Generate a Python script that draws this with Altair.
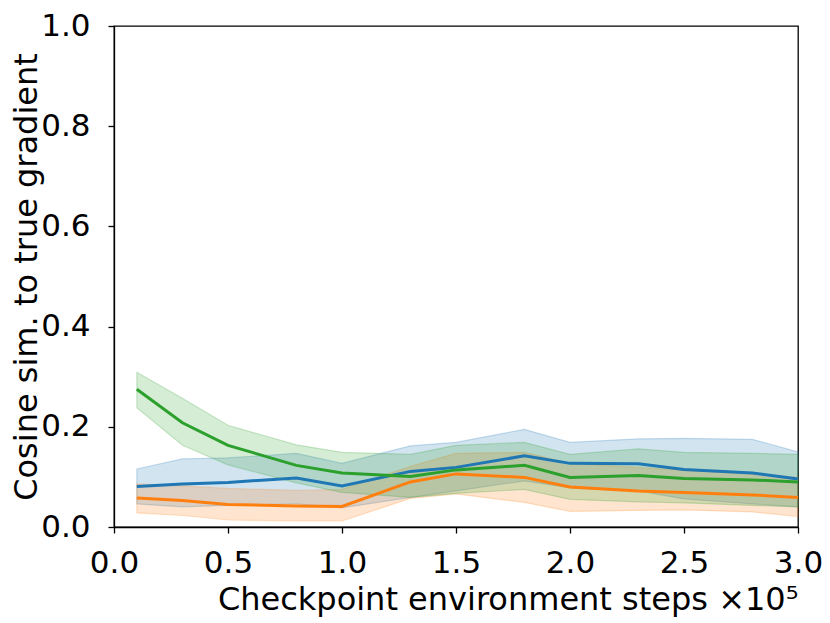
import altair as alt
import pandas as pd

steps = [0.1, 0.3, 0.5, 0.8, 1.0, 1.3, 1.5, 1.8, 2.0, 2.3, 2.5, 2.8, 3.0]

blue_mean = [0.081, 0.086, 0.089, 0.098, 0.082, 0.111, 0.119, 0.142, 0.127, 0.126, 0.115, 0.108, 0.096]
blue_hi = [0.116, 0.136, 0.138, 0.147, 0.127, 0.162, 0.169, 0.195, 0.169, 0.176, 0.177, 0.175, 0.150]
blue_lo = [0.046, 0.040, 0.043, 0.046, 0.038, 0.059, 0.072, 0.092, 0.078, 0.072, 0.056, 0.046, 0.040]

orange_mean = [0.058, 0.053, 0.045, 0.042, 0.041, 0.090, 0.106, 0.099, 0.080, 0.072, 0.069, 0.064, 0.059]
orange_hi = [0.086, 0.082, 0.077, 0.073, 0.075, 0.121, 0.147, 0.149, 0.127, 0.119, 0.113, 0.106, 0.099]
orange_lo = [0.028, 0.023, 0.014, 0.012, 0.012, 0.057, 0.066, 0.049, 0.031, 0.033, 0.034, 0.030, 0.021]

green_mean = [0.275, 0.208, 0.163, 0.123, 0.108, 0.101, 0.114, 0.123, 0.099, 0.103, 0.097, 0.094, 0.090]
green_hi = [0.309, 0.257, 0.203, 0.164, 0.149, 0.145, 0.163, 0.169, 0.145, 0.156, 0.149, 0.147, 0.145]
green_lo = [0.238, 0.163, 0.124, 0.088, 0.069, 0.059, 0.067, 0.075, 0.055, 0.050, 0.048, 0.043, 0.040]

series_names = ["blue", "orange", "green"]
series_colors = ["#1f77b4", "#ff7f0e", "#2ca02c"]

x_ticks = [0, 0.5, 1.0, 1.5, 2.0, 2.5, 3.0]
y_ticks = [0, 0.2, 0.4, 0.6, 0.8, 1.0]

rows = []
for name, m, hi, lo in [
    ("blue", blue_mean, blue_hi, blue_lo),
    ("orange", orange_mean, orange_hi, orange_lo),
    ("green", green_mean, green_hi, green_lo),
]:
    for i, s in enumerate(steps):
        rows.append({"series": name, "step": s, "mean": m[i], "hi": hi[i], "lo": lo[i]})
df = pd.DataFrame(rows)

FONT = "DejaVu Sans"
cscale = alt.Scale(domain=series_names, range=series_colors)
color = alt.Color("series:N", scale=cscale, legend=None)

x = alt.X(
    "step:Q",
    scale=alt.Scale(domain=[0, 3], nice=False),
    axis=alt.Axis(
        values=x_ticks,
        format=".1f",
        title="Checkpoint environment steps ×10⁵",
        titleAnchor="end",
        titlePadding=6,
        labelFlush=False,
        labelOverlap=False,
        labelPadding=15,
    ),
)
y_axis = alt.Axis(
    values=y_ticks,
    format=".1f",
    title="Cosine sim. to true gradient",
    titlePadding=-3,
    labelPadding=18,
    labelOverlap=False,
)

band = alt.Chart(df).mark_area(fillOpacity=0.2, strokeOpacity=0.22, strokeWidth=1.2).encode(
    x=x,
    y=alt.Y("lo:Q", scale=alt.Scale(domain=[0, 1], nice=False), axis=y_axis),
    y2="hi:Q",
    color=color,
    stroke=alt.Stroke("series:N", scale=cscale, legend=None),
    detail="series:N",
)

line = alt.Chart(df).mark_line(strokeWidth=3.0).encode(
    x=x,
    y=alt.Y("mean:Q"),
    color=color,
    order="step:Q",
)

chart = (
    alt.layer(band, line)
    .properties(
        width=684,
        height=501,
        autosize=alt.AutoSizeParams(type="none"),
        padding={"left": 106, "top": 18, "right": 24, "bottom": 94},
    )
    .configure_view(stroke="black", strokeWidth=1.3, fill="white")
    .configure_axis(
        labelFont=FONT,
        titleFont=FONT,
        labelFontSize=31,
        titleFontSize=32,
        titleFontWeight="normal",
        labelColor="black",
        titleColor="black",
        domainColor="black",
        tickColor="black",
        domainWidth=1.3,
        tickWidth=1.3,
        tickSize=6,
        grid=False,
    )
)

chart.save("out.html", embed_options={"renderer": "svg", "actions": False})
